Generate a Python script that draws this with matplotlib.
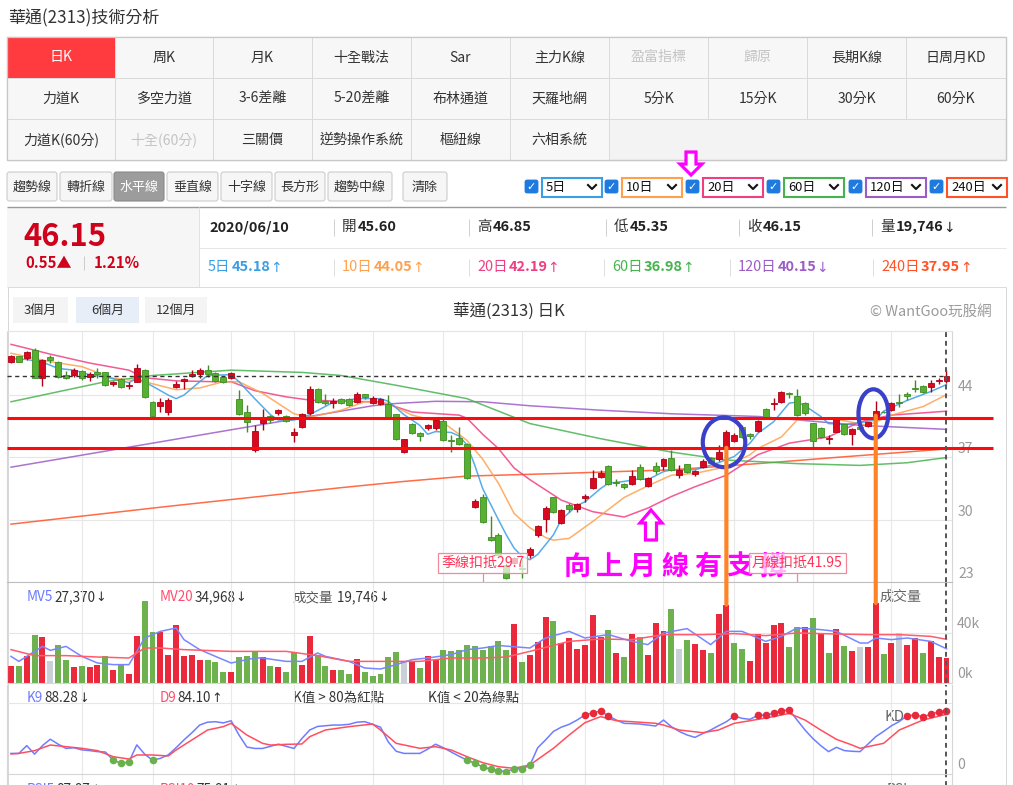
import numpy as np
import matplotlib
matplotlib.use('Agg')
import matplotlib.pyplot as plt
from matplotlib.patches import Rectangle, FancyBboxPatch, Ellipse, Polygon, ConnectionPatch
from matplotlib.transforms import offset_copy

plt.rcParams['font.family'] = ['Noto Sans CJK TC', 'DejaVu Sans']

######################
# daily candles (2313 華通, last day 2020/06/10)
opens = [47.75, 48.38, 48.12, 49.06, 45.87, 48.23, 47.67, 46.25, 46.25, 46.73,
         45.98, 46.55, 46.55, 45.20, 45.76, 45.01, 45.50, 46.81, 43.18, 42.80,
         42.13, 44.94, 45.61, 46.17, 46.32, 46.81, 46.43, 45.98, 45.87, 43.51,
         42.13, 37.82, 40.82, 41.68, 41.94, 41.68, 39.50, 40.44, 41.94, 44.67,
         43.33, 43.06, 43.55, 43.55, 43.18, 44.07, 43.06, 42.99, 42.95, 41.83,
         37.56, 40.70, 39.69, 40.25, 40.25, 41.08, 38.87, 39.13, 38.46, 31.38,
         32.58, 28.08, 28.27, 24.90, 25.09, 24.55, 26.02, 28.27, 30.03, 32.50,
         29.58, 31.64, 31.15, 32.39, 33.51, 34.82, 36.02, 34.26, 34.00, 33.96,
         35.87, 33.81, 36.02, 36.02, 36.88, 35.01, 36.21, 35.09, 35.87, 36.96,
         36.77, 38.08, 38.83, 40.44, 39.60, 39.96, 42.43, 42.95, 43.18, 44.19,
         43.93, 43.06, 40.82, 40.33, 39.02, 39.88, 40.70, 39.62, 40.44, 40.52,
         41.68, 42.13, 42.31, 43.25, 44.07, 44.82, 45.01, 44.94, 45.57, 45.60]
closes = [48.38, 47.75, 48.79, 45.87, 47.93, 47.93, 45.98, 45.87, 46.81, 45.87,
          46.32, 46.40, 45.12, 45.42, 44.94, 45.12, 47.00, 43.81, 41.68, 43.18,
          43.40, 45.20, 45.76, 46.32, 46.81, 46.32, 45.57, 45.50, 46.43, 41.83,
          40.93, 39.99, 41.38, 41.19, 42.28, 41.08, 39.80, 41.83, 44.64, 43.18,
          43.06, 43.36, 43.06, 42.88, 44.07, 43.74, 43.70, 43.55, 41.57, 39.02,
          39.02, 39.69, 39.39, 40.63, 41.19, 38.94, 38.80, 38.46, 34.71, 32.13,
          29.69, 27.71, 26.00, 23.40, 25.73, 24.48, 26.66, 29.32, 31.34, 30.82,
          31.08, 31.19, 31.75, 32.65, 34.64, 35.27, 33.96, 34.15, 33.63, 34.90,
          34.52, 34.64, 35.46, 36.81, 35.60, 35.60, 35.39, 35.50, 36.62, 36.40,
          37.56, 39.88, 39.50, 39.32, 39.40, 41.08, 41.57, 43.14, 44.30, 44.07,
          41.80, 41.94, 38.83, 39.32, 39.13, 41.30, 39.58, 40.14, 40.14, 40.93,
          42.20, 42.05, 43.14, 43.14, 43.93, 44.67, 44.30, 45.31, 45.69, 46.15]
highs = [48.49, 48.42, 48.98, 49.24, 48.00, 48.49, 47.80, 46.70, 47.07, 46.85,
         46.62, 47.00, 46.60, 45.61, 45.87, 45.50, 47.45, 46.90, 43.30, 43.63,
         43.70, 45.57, 45.87, 46.81, 47.00, 47.37, 46.62, 46.10, 46.62, 44.56,
         42.88, 40.63, 42.43, 41.75, 42.43, 41.80, 40.25, 41.94, 45.01, 44.75,
         44.07, 43.70, 43.70, 43.63, 44.30, 44.15, 43.85, 43.70, 44.00, 41.90,
         39.10, 40.82, 39.80, 40.75, 41.40, 41.57, 39.50, 40.44, 38.60, 32.30,
         32.90, 30.40, 28.50, 25.10, 25.80, 25.60, 26.90, 29.40, 31.50, 32.60,
         31.20, 31.90, 31.90, 32.84, 35.57, 35.57, 36.20, 34.56, 34.10, 35.57,
         36.21, 34.80, 36.50, 36.96, 37.82, 36.13, 36.30, 35.60, 36.80, 37.10,
         38.38, 40.07, 39.70, 40.60, 39.70, 41.20, 42.50, 43.63, 44.45, 44.37,
         44.64, 43.20, 40.90, 40.40, 39.50, 41.40, 40.80, 40.30, 40.50, 41.00,
         43.33, 42.20, 43.25, 44.07, 44.37, 45.69, 45.10, 45.69, 45.87, 46.85]
lows = [47.56, 47.67, 47.93, 45.87, 45.05, 47.56, 45.90, 45.80, 46.06, 45.68,
        45.61, 45.95, 45.05, 45.05, 44.82, 44.64, 45.42, 43.70, 41.57, 42.13,
        41.75, 44.75, 44.67, 46.06, 45.95, 46.06, 45.50, 45.40, 45.80, 41.75,
        39.88, 37.56, 40.07, 40.82, 41.75, 41.00, 38.68, 40.33, 41.75, 43.10,
        42.88, 42.58, 43.00, 42.80, 43.10, 43.60, 42.95, 42.88, 41.50, 38.90,
        37.50, 39.60, 38.87, 40.10, 40.10, 38.87, 37.56, 38.38, 34.60, 31.30,
        29.60, 27.65, 25.90, 23.30, 25.00, 23.40, 25.70, 28.00, 28.64, 30.70,
        29.50, 30.90, 30.90, 32.00, 33.50, 34.64, 33.90, 33.81, 33.50, 33.90,
        34.45, 33.70, 35.09, 35.57, 35.50, 34.71, 35.30, 34.90, 35.80, 36.30,
        36.62, 38.00, 38.70, 39.20, 39.10, 39.90, 41.50, 42.31, 43.10, 43.63,
        41.68, 41.80, 38.19, 39.20, 38.46, 39.80, 39.50, 38.38, 40.00, 40.40,
        41.60, 42.00, 42.20, 42.69, 43.44, 44.37, 44.20, 44.37, 45.20, 45.35]

# volume in thousands of lots, colour code r=up g=down n=flat
volumes = [13.3, 13.3, 21.9, 38.7, 36.5, 17.3, 30.7, 18.1, 12.5, 13.3,
           12.5, 14.7, 21.9, 10.7, 14.7, 7.5, 37.3, 65.9, 40.5, 40.5,
           22.7, 46.1, 21.3, 22.7, 18.1, 18.7, 16.5, 8.5, 9.1, 20.5,
           21.9, 24.5, 20.8, 13.9, 12.8, 8.5, 24.5, 14.7, 37.9, 22.4,
           13.9, 10.7, 10.7, 7.5, 19.5, 8.5, 5.9, 7.5, 20.5, 24.5,
           16.5, 17.3, 11.7, 21.3, 18.1, 26.1, 25.3, 26.7, 30.7, 29.9,
           26.1, 29.9, 33.9, 26.7, 47.5, 17.1, 22.7, 33.1, 52.5, 49.9,
           31.7, 36.3, 27.5, 30.7, 54.7, 37.1, 42.7, 24.3, 20.5, 39.5,
           37.1, 22.7, 48.3, 41.9, 59.5, 27.5, 34.7, 31.5, 26.7, 24.3,
           55.5, 62.7, 32.3, 27.5, 17.9, 39.5, 32.3, 46.7, 48.3, 29.1,
           45.1, 45.1, 52.3, 40.3, 24.3, 43.5, 29.9, 25.9, 29.1, 29.1,
           64.0, 23.5, 32.3, 40.3, 30.7, 36.3, 24.3, 33.9, 21.1, 19.746]
vol_dir = ('rgrgrnggrgrrgrgrrggrrrrrrgggrgggrgrggrrggrggrggggg'
           'nrgrrgggggggggrgrrrgrrrrrrgrgrgrrrgngrrgrrggrrrrrggrgrgrgrnrrgrnrrgrrr')

# moving averages sampled along the lines (candle index, price)
ma5_x = [0, 2, 4, 6, 8, 10, 12, 14, 15, 16, 18, 20, 21, 22, 24, 25, 28, 29, 31, 33, 34, 36, 38, 41,
         44, 47, 48, 50, 52, 53, 54, 56, 57, 58, 59, 60, 62, 63, 64, 65, 66, 67, 69, 70, 72, 73, 75,
         76, 78, 80, 81, 83, 84, 87, 90, 92, 94, 95, 97, 99, 100, 101, 103, 104, 106, 108, 110, 111,
         114, 117, 119]
ma5_y = [48.1, 48.0, 47.7, 47.0, 46.8, 46.3, 46.05, 45.6, 45.4, 45.9, 45.0, 44.0, 43.6, 44.0, 45.5,
         46.2, 46.3, 45.5, 43.6, 41.8, 41.2, 41.2, 41.8, 43.2, 43.6, 43.6, 43.3, 41.8, 40.6, 39.6,
         39.9, 39.8, 39.4, 38.4, 36.1, 33.5, 30.0, 28.3, 26.8, 25.9, 25.5, 26.1, 28.3, 30.0, 31.6,
         32.0, 33.5, 34.1, 34.3, 34.6, 34.5, 35.4, 35.6, 35.6, 36.4, 37.1, 38.6, 39.7, 41.0, 43.1,
         43.2, 42.8, 41.6, 40.8, 40.7, 40.9, 41.2, 42.2, 43.4, 44.4, 45.18]
ma10_x = [0, 5, 9, 13, 17, 21, 24, 27, 29, 32, 36, 38, 42, 45, 48, 51, 55, 57, 58, 60, 62, 64, 66,
          68, 69, 71, 74, 78, 81, 84, 87, 91, 94, 95, 98, 100, 104, 109, 112, 116, 119]
ma10_y = [48.7, 47.75, 47.2, 45.9, 45.5, 44.6, 44.8, 45.5, 45.5, 44.2, 41.9, 41.5, 42.3, 43.25,
          43.06, 41.75, 40.9, 39.6, 38.9, 36.8, 34.1, 30.7, 29.1, 28.0, 27.7, 27.9, 29.8, 32.5,
          33.8, 35.0, 35.2, 35.95, 37.3, 38.0, 39.3, 41.2, 41.45, 40.6, 41.75, 42.7, 44.05]
ma20_x = [0, 5, 10, 15, 17, 21, 26, 28, 31, 35, 38, 42, 47, 51, 57, 58, 60, 62, 64, 66, 70, 74, 78,
          81, 84, 87, 91, 95, 99, 104, 108, 112, 119]
ma20_y = [49.7, 48.6, 47.6, 46.8, 45.95, 45.6, 45.5, 45.5, 44.5, 43.8, 43.44, 43.3, 43.25, 42.1,
          41.75, 41.4, 39.6, 38.0, 35.8, 34.5, 32.2, 30.9, 30.3, 31.3, 32.6, 33.7, 35.0, 37.3,
          38.6, 39.3, 41.0, 41.75, 42.19]
ma60_x = [0, 12, 18, 28, 37, 42, 49, 58, 66, 75, 84, 91, 100, 108, 114, 119]
ma60_y = [43.25, 45.5, 46.2, 46.8, 46.55, 46.2, 45.1, 43.6, 40.8, 39.1, 37.6, 36.7, 36.3, 36.1,
          36.4, 36.98]
ma120_x = [0, 42, 46, 49, 54, 60, 66, 75, 84, 95, 108, 119]
ma120_y = [35.9, 42.2, 42.8, 43.06, 43.3, 43.25, 42.8, 42.3, 41.9, 41.6, 40.6, 40.15]
ma240_x = [0, 20, 42, 50, 58, 70, 84, 95, 105, 119]
ma240_y = [29.5, 31.5, 33.6, 34.3, 34.9, 35.2, 35.6, 36.3, 37.0, 37.95]

# volume averages (index, thousand lots)
mv5_x = [0, 1, 3, 4, 5, 7, 9, 11, 13, 15, 16, 17, 19, 21, 22, 24, 26, 28, 31, 32, 35, 37, 39, 40,
         43, 45, 47, 49, 51, 53, 56, 58, 60, 62, 66, 68, 71, 73, 76, 79, 81, 83, 86, 89, 91, 93,
         96, 98, 100, 103, 105, 108, 109, 110, 112, 114, 117, 119]
mv5_y = [21.3, 17.3, 25.3, 29.3, 26.1, 29.3, 21.3, 16.0, 14.7, 14.7, 25.3, 36.0, 41.3, 44.0, 34.7,
         26.7, 21.3, 16.0, 20.0, 20.0, 17.3, 17.3, 24.0, 21.3, 17.3, 12.0, 11.2, 14.7, 18.7, 20.0,
         22.7, 26.7, 28.0, 30.0, 28.0, 36.0, 41.3, 36.0, 38.7, 33.3, 30.7, 40.0, 43.5, 30.7, 41.3,
         41.3, 33.3, 37.3, 44.0, 42.7, 41.3, 32.0, 32.0, 36.0, 34.7, 36.0, 33.3, 27.37]
mv20_x = [0, 3, 7, 11, 15, 17, 19, 22, 28, 35, 39, 43, 47, 52, 56, 60, 63, 66, 71, 75, 79, 83, 88,
          92, 96, 100, 105, 109, 113, 117, 119]
mv20_y = [26.7, 21.9, 21.9, 20.8, 20.0, 28.0, 28.0, 26.7, 25.3, 25.3, 21.9, 17.3, 17.3, 17.3, 20.0,
          20.0, 20.8, 25.3, 33.3, 35.2, 34.7, 38.7, 38.7, 39.5, 37.9, 40.0, 39.2, 38.7, 38.7, 37.3,
          34.97]

# KD (9)
k9 = [29, 29, 40, 28, 40, 49, 42, 36, 37, 34, 33, 31.5, 31, 19.5, 15, 17, 41, 28, 19.5, 22,
      27, 37, 48, 58, 69, 73, 73.7, 72, 75, 55, 38, 36, 36, 39, 42, 39, 36, 50, 62, 67,
      68, 69, 69, 70, 73, 73.7, 70, 66, 45, 32, 29, 29, 29, 35, 42, 37, 31, 25, 19.5, 15,
      10.3, 6.6, 4.7, 3.3, 7.5, 7.5, 12.2, 37, 48, 60, 66, 70, 76, 83, 86.4, 88.7, 81.7, 76, 71.4, 71,
      70.4, 69, 67.6, 76, 66.7, 60, 55, 51.6, 57, 62, 68, 73.7, 81.7, 78.4, 77, 82.6, 83.1, 85.4, 89.2, 90.1,
      76, 62, 50, 40, 31.5, 37.6, 33, 32, 31.5, 42, 52.6, 60, 68, 74, 82.2, 83.1, 80.8, 84, 87.8, 88.28]
d9_x = [0, 1, 3, 5, 7, 9, 11, 13, 15, 16, 18, 20, 21, 23, 25, 27, 28, 30, 32, 33, 35, 37, 38, 40,
        43, 46, 47, 49, 52, 54, 56, 58, 60, 62, 64, 66, 69, 71, 73, 75, 77, 79, 82, 83, 85, 88,
        90, 92, 94, 97, 99, 101, 103, 105, 107, 108, 111, 113, 116, 119]
d9_y = [28.2, 29, 32.9, 40.8, 38.5, 36.2, 32.9, 24.4, 21.1, 26.8, 26.8, 25.4, 33.8, 47.9, 62, 66.7,
        71.4, 54.9, 43.2, 40.8, 41.8, 42.3, 52.6, 62, 66.7, 70.4, 62, 43.2, 36.2, 38.5, 33.8, 24.4,
        16, 10.3, 8, 12.7, 36.2, 54.9, 72.3, 80.8, 75.1, 73.7, 71.4, 69, 62, 58.2, 62, 71.4, 75.1,
        80.8, 85.4, 76, 62, 48.8, 40.8, 36.2, 43.2, 62, 76, 84.1]

support = [41.42, 38.04]          # the two red horizontal lines
marks = [91, 110]                 # days tied to the volume spikes
deduct = [(60, '季線扣抵29.7'), (100, '月線扣抵41.95')]
grid_idx = [9, 18, 28, 36, 46, 55, 65, 73, 83, 92, 102, 112]

######################
W, H = 1013, 785
fig = plt.figure(figsize=(W / 100, H / 100), dpi=100)
fig.patch.set_facecolor('white')
ui = fig.add_axes([0, 0, 1, 1])
ui.set_xlim(0, W)
ui.set_ylim(H, 0)
ui.axis('off')
R = fig.canvas.get_renderer()


def fs(px):
    return px * 0.72


def put(x, y, s, px=14, color='#333333', ha='left', va='center', weight='normal', **kw):
    return ui.text(x, y, s, fontsize=fs(px), color=color, ha=ha, va=va, fontweight=weight, **kw)


def rect(x0, y0, x1, y1, fc='none', ec='none', lw=0.7, z=1, rs=0):
    if rs:
        p = FancyBboxPatch((x0, y0), x1 - x0, y1 - y0,
                           boxstyle='round,pad=0,rounding_size=%g' % rs,
                           fc=fc, ec=ec, lw=lw, zorder=z)
    else:
        p = Rectangle((x0, y0), x1 - x0, y1 - y0, fc=fc, ec=ec, lw=lw, zorder=z)
    ui.add_patch(p)


def hl(y, x0, x1, color='#dddddd', lw=0.72):
    ui.plot([x0, x1], [y, y], color=color, lw=lw, solid_capstyle='butt')


def vl(x, y0, y1, color='#dddddd', lw=0.72):
    ui.plot([x, x], [y0, y1], color=color, lw=lw, solid_capstyle='butt')


def width(t):
    return t.get_window_extent(renderer=R).width


def pair(x, y, a, b, ca, cb, px=14, gap=1, wb='bold'):
    # label, then value in bold, then a thin trend arrow
    t = put(x, y, a, px, ca, zorder=6)
    x += width(t) + gap
    arrow = ''
    if b[-1] in '↑↓':
        b, arrow = b[:-1], b[-1]
    t = put(x, y, b, px, cb, weight=wb, zorder=6)
    if arrow:
        put(x + width(t), y + 0.5, arrow, px * 0.95, cb, zorder=6, family='DejaVu Sans')


# title
put(8, 18, '華通(2313)技術分析', 17, '#333333')

# menu grid
col_x = [7, 115, 213, 312, 411, 510, 609, 708, 807, 906, 1006]
row_y = [37, 78, 119, 160]
menu = [['日K', '周K', '月K', '十全戰法', 'Sar', '主力K線', '盈富指標', '歸原', '長期K線', '日周月KD'],
        ['力道K', '多空力道', '3-6差離', '5-20差離', '布林通道', '天羅地網', '5分K', '15分K', '30分K', '60分K'],
        ['力道K(60分)', '十全(60分)', '三關價', '逆勢操作系統', '樞紐線', '六相系統']]
disabled = ['盈富指標', '歸原', '十全(60分)']
rect(7, 37, 1006, 160, fc='#f3f3f3', ec='#c8c8c8', lw=0.9)
for r, row in enumerate(menu):
    for ci, lab in enumerate(row):
        x0, x1 = col_x[ci], col_x[ci + 1]
        y0, y1 = row_y[r], row_y[r + 1]
        sel = (lab == '日K')
        rect(x0, y0, x1, y1, fc='#ff3b3f' if sel else '#f7f7f7', ec='#dadada', lw=0.7, z=2)
        col = '#ffffff' if sel else ('#c4c4c4' if lab in disabled else '#333333')
        put((x0 + x1) / 2, (y0 + y1) / 2, lab, 14, col, ha='center', zorder=3)
rect(7, 37, 1006, 160, fc='none', ec='#c8c8c8', lw=0.9, z=4)

# drawing tools
tools = ['趨勢線', '轉折線', '水平線', '垂直線', '十字線', '長方形', '趨勢中線', '清除']
tool_x = [(7, 57), (60, 112), (114, 164), (167, 218), (221, 272), (275, 325), (328, 392), (403, 447)]
for lab, (x0, x1) in zip(tools, tool_x):
    on = (lab == '水平線')
    rect(x0, 172, x1, 201, fc='#9c9c9c' if on else '#f6f6f6', ec='#8a8a8a' if on else '#cccccc',
         lw=0.8, z=2, rs=2.5)
    put((x0 + x1) / 2, 187, lab, 13, '#ffffff' if on else '#333333', ha='center', zorder=3)

# moving average selectors
ma_names = ['5日', '10日', '20日', '60日', '120日', '240日']
ma_colors = ['#3a9ee4', '#ffa04d', '#ef3f82', '#47b34f', '#9c5cc8', '#ff5226']
sel_x = [542, 622, 703, 784, 866, 947]
for lab, col, x0 in zip(ma_names, ma_colors, sel_x):
    rect(x0 - 17, 180, x0 - 4, 193, fc='#1f7ae0', ec='#1f7ae0', lw=0.6, z=2, rs=2)
    ui.text(x0 - 10.5, 186.8, '✓', fontsize=8, color='white', ha='center', va='center',
            fontweight='bold', family='DejaVu Sans', zorder=3)
    rect(x0, 178, x0 + 60, 197, fc='white', ec=col, lw=1.5, z=2)
    put(x0 + 4, 187.5, lab, 13, '#111111', zorder=3)
    ui.plot([x0 + 46, x0 + 50, x0 + 54], [185, 189, 185], color='#111111', lw=1.5, zorder=3)

# magenta hint arrow above the 20日 box
ui.add_patch(Polygon([(686, 152), (696, 152), (696, 164), (702, 164), (691, 175), (680, 164), (686, 164)],
                     closed=True, fc='white', ec='#ff00ff', lw=2.3, zorder=5, joinstyle='miter'))

# quote block
hl(206.5, 7, 1006, '#9a9a9a', 1)
rect(7, 207, 199, 287, fc='#f6f6f6', z=1)
vl(199, 207, 287, '#e2e2e2')
hl(248, 199, 1006, '#e6e6e6')
hl(287, 7, 1006, '#dcdcdc')
put(23, 237, '46.15', 31, '#d0021b', weight='bold')
put(25, 263, '0.55▲', 15, '#d0021b', weight='bold')
vl(84, 256, 270, '#cccccc')
put(94, 263, '1.21%', 15, '#d0021b', weight='bold')

put(209, 227, '2020/06/10', 14.5, '#222222', weight='bold')
q_lab = ['開', '高', '低', '收', '量']
q_val = ['45.60', '46.85', '45.35', '46.15', '19,746↓']
q_x = [342, 477, 614, 747, 880]
for lab, val, x in zip(q_lab, q_val, q_x):
    vl(x - 8, 219, 236, '#d0d0d0')
    pair(x, 227, lab, val, '#333333', '#222222', 14.5)
ma_last = ['45.18↑', '44.05↑', '42.19↑', '36.98↑', '40.15↓', '37.95↑']
ma_lx = [208, 342, 477, 612, 738, 881]
for lab, val, col, x in zip(ma_names, ma_last, ma_colors, ma_lx):
    if x > 300:
        vl(x - 8, 259, 276, '#e0e0e0')
    pair(x, 267, lab, val, col, col, 14.5)

# chart frame and header
vl(7.5, 287, 785, '#d8d8d8')
vl(1005.5, 287, 785, '#d8d8d8')
periods = ['3個月', '6個月', '12個月']
per_x = [(13, 68), (76, 139), (145, 207)]
for lab, (x0, x1) in zip(periods, per_x):
    rect(x0, 297, x1, 323, fc='#e7eef8' if lab == '6個月' else '#f4f4f4', z=2)
    put((x0 + x1) / 2, 310, lab, 13, '#333333', ha='center', zorder=3)
put(509, 311, '華通(2313) 日K', 16.5, '#333333', ha='center')
put(992, 312, '© WantGoo玩股網', 14.5, '#9a9a9a', ha='right')

# panel captions (panels are transparent, so these show through)
pair(27, 597, 'MV5', '27,370↓', '#6a7bff', '#333333', 13.5, wb='normal')
pair(160, 597, 'MV20', '34,968↓', '#ff4d6d', '#333333', 13.5, wb='normal')
pair(293, 597, '成交量', ' 19,746↓', '#555555', '#333333', 13.5, wb='normal')
put(880, 597, '成交量', 14, '#666666')
pair(27, 698, 'K9', '88.28↓', '#6a7bff', '#333333', 13.5, wb='normal')
pair(160, 698, 'D9', '84.10↑', '#ff4d6d', '#333333', 13.5, wb='normal')
put(293, 698, 'K值 > 80為紅點', 13.5, '#333333')
put(428, 698, 'K值 < 20為綠點', 13.5, '#333333')
put(885, 717, 'KD', 15, '#666666')
pair(27, 790, 'RSI5', '87.87↓', '#6a7bff', '#333333', 13.5, wb='normal')
pair(160, 790, 'RSI10', '75.81↓', '#ff4d6d', '#333333', 13.5, wb='normal')
put(887, 790, 'RSI', 14, '#666666')


def px_axes(x0, y0, x1, y1):
    a = fig.add_axes([x0 / W, 1 - y1 / H, (x1 - x0) / W, (y1 - y0) / H])
    a.set_facecolor('none')
    return a


ax = px_axes(7, 331, 952, 582)
axv = px_axes(7, 583, 952, 683)
axk = px_axes(7, 685, 952, 774)
axr = px_axes(7, 775, 952, 786)

n = len(closes)
xs = np.arange(n)
xlim = (-0.51, 119.7)
for a in (ax, axv, axk, axr):
    a.set_xticks([])
    a.set_yticks([])
    for s in a.spines.values():
        s.set_color('#d6d6d6')
        s.set_linewidth(0.8)
    a.spines['top'].set_visible(False)
    for g in grid_idx:
        a.axvline(g, color='#e9e9e9', lw=0.8, zorder=0)
    a.axvline(n - 1, color='#555555', lw=1.4, ls=(0, (2.5, 2)), zorder=9)
ax.spines['top'].set_visible(True)
ax.spines['top'].set_color('#e4e4e4')
ax.spines['bottom'].set_color('#bdbdbd')

# price panel
o = np.array(opens)
c = np.array(closes)
hi = np.maximum(np.array(highs), np.maximum(o, c))
lo = np.minimum(np.array(lows), np.minimum(o, c))
up = c >= o
fill = np.where(up, '#d9091f', '#56b031')
edge = np.where(up, '#b10015', '#3e8e23')
for v in [23, 30, 37, 44]:
    ax.axhline(v, color='#e6e6e6', lw=0.8, zorder=0)
ma_lines = [(ma240_x, ma240_y, ma_colors[5]), (ma120_x, ma120_y, ma_colors[4]),
            (ma60_x, ma60_y, ma_colors[3]), (ma20_x, ma20_y, ma_colors[2]),
            (ma10_x, ma10_y, ma_colors[1]), (ma5_x, ma5_y, ma_colors[0])]
for mx, my, col in ma_lines:
    ax.plot(mx, my, color=col, lw=1.1, alpha=0.85, zorder=2)
ax.vlines(xs, lo, hi, colors=edge, lw=1.0, zorder=3)
ax.bar(xs, np.maximum(np.abs(c - o), 0.1), bottom=np.minimum(o, c), width=0.76,
       color=fill, edgecolor=edge, linewidth=0.6, zorder=4)
ax.hlines(c[-1], xlim[0], n - 1, colors='#333333', lw=1.0, linestyles=(0, (3, 2.5)), zorder=5)
ax.hlines(support, xlim[0], (993 - 11) / 7.86, colors='#ff0a0a', lw=2.2, zorder=6, clip_on=False)

for i, lab in deduct:
    ax.text(i, 25.18, lab, fontsize=fs(14), color='#ff3355', ha='center', va='center', zorder=7,
            bbox=dict(boxstyle='square,pad=0.22', fc=(1, 1, 1, 0.7), ec='#f08a9a', lw=0.9))
    ax.vlines(i, 23, 24.0, colors='#f08a9a', lw=0.9, zorder=7)

for ch, px in zip('向上月線有支撐', np.linspace(577, 773, 7)):
    ax.text(px, 567, ch, fontsize=19.5, color='#ff00ff', fontweight='bold', ha='center', va='center',
            transform=ui.transData, zorder=5, clip_on=False)
ax.add_patch(Polygon([(651, 510), (662, 523), (656.5, 523), (656.5, 540), (645.5, 540), (645.5, 523), (640, 523)],
                     closed=True, fc='white', ec='#ff00ff', lw=2.3, zorder=8, joinstyle='miter',
                     transform=ui.transData, clip_on=False))
for cx, cy, ew, eh in [(90.7, 38.7, 5.4, 5.6), (109.7, 41.9, 3.8, 5.5)]:
    ax.add_patch(Ellipse((cx, cy), ew, eh, fc='none', ec='#3b40c8', lw=3.0, zorder=8))

ax.set_xlim(*xlim)
ax.set_ylim(23, 51.2)
lab_tr = offset_copy(ax.get_yaxis_transform(), fig=fig, x=6, y=8, units='dots')
for v in [44, 37, 30, 23]:
    ax.text(1, v, str(v), transform=lab_tr, fontsize=fs(14), color='#999999', va='center',
            clip_on=False)

# volume panel
vcol = {'r': '#ea2a3c', 'g': '#6db24f', 'n': '#c9d1d6'}
axv.axhline(40, color='#e6e6e6', lw=0.8, zorder=0)
axv.bar(xs, volumes, width=0.76, color=[vcol[d] for d in vol_dir], zorder=2)
axv.plot(mv5_x, mv5_y, color='#7a86ff', lw=1.1, zorder=3)
axv.plot(mv20_x, mv20_y, color='#ff5c6c', lw=1.1, zorder=3)
axv.set_xlim(*xlim)
axv.set_ylim(0, 80)
lab_tr = offset_copy(axv.get_yaxis_transform(), fig=fig, x=5, y=9, units='dots')
for v, s in [(40, '40k'), (0, '0k')]:
    axv.text(1, v, s, transform=lab_tr, fontsize=fs(14), color='#999999', va='center', clip_on=False)

for i in marks:
    fig.add_artist(ConnectionPatch(xyA=(i, opens[i]), coordsA='data', axesA=ax,
                                   xyB=(i, volumes[i]), coordsB='data', axesB=axv,
                                   color='#ff8426', lw=3.0, zorder=20))

# KD panel
k = np.array(k9)
axk.axhline(100, color='#e6e6e6', lw=0.8, zorder=0)
axk.plot(xs, k, color='#6e7dff', lw=1.1, zorder=3)
axk.plot(d9_x, d9_y, color='#ff4f5e', lw=1.1, zorder=3)
hot = k > 80
cold = k < 20
axk.scatter(xs[hot], k[hot], s=30, color='#e8293b', zorder=4, linewidths=0)
axk.scatter(xs[cold], k[cold], s=30, color='#6ab04c', zorder=4, linewidths=0)
axk.set_xlim(*xlim)
axk.set_ylim(0, 125.4)
lab_tr = offset_copy(axk.get_yaxis_transform(), fig=fig, x=5, y=9, units='dots')
axk.text(1, 0, '0', transform=lab_tr, fontsize=fs(14), color='#999999', va='center', clip_on=False)
axr.set_xlim(*xlim)

fig.savefig('out.png', dpi=100)
